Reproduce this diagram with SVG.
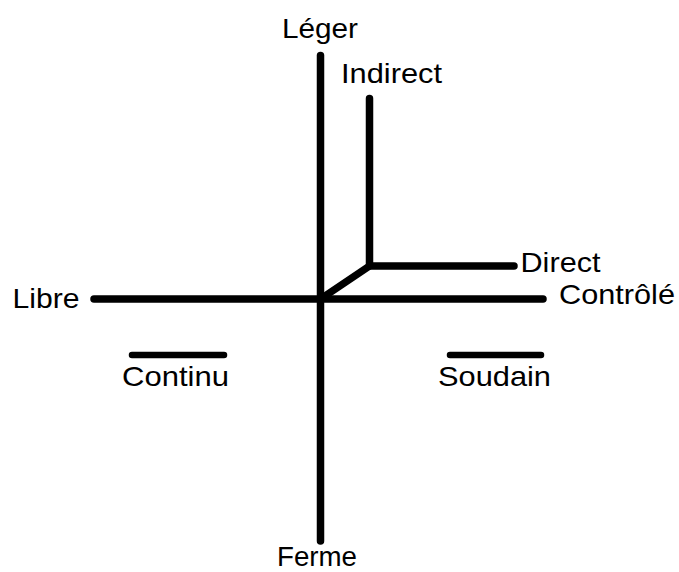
<svg xmlns="http://www.w3.org/2000/svg" width="679" height="572" viewBox="0 0 679 572">
<style>
.ln{stroke:#000;stroke-width:7.5;stroke-linecap:round;stroke-linejoin:round;fill:none}
.bar{stroke:#000;stroke-width:6.5;stroke-linecap:round;fill:none}
text{font-family:"Liberation Sans",Arial,Helvetica,sans-serif;font-size:28px;fill:#000}
</style>
<rect width="679" height="572" fill="#fff"/>
<g id="connectors">
<path class="ln" d="M320.5,55.5 V541"/>
<path class="ln" d="M94,299 H543"/>
<path class="ln" d="M369.5,98.5 V266 H514"/>
<path class="ln" d="M322,298 L369.5,266"/>
<path class="bar" d="M132,355 H224"/>
<path class="bar" d="M450,355 H541"/>
</g>
<g id="leger"><text x="282" y="37.5" textLength="76" lengthAdjust="spacingAndGlyphs">Léger</text></g>
<g id="indirect"><text x="341" y="82.5" textLength="101" lengthAdjust="spacingAndGlyphs">Indirect</text></g>
<g id="direct"><text x="520.5" y="272" textLength="80" lengthAdjust="spacingAndGlyphs">Direct</text></g>
<g id="controle"><text x="559" y="304" textLength="116" lengthAdjust="spacingAndGlyphs">Contrôlé</text></g>
<g id="libre"><text x="12.5" y="307.5" textLength="67" lengthAdjust="spacingAndGlyphs">Libre</text></g>
<g id="continu"><text x="122" y="386" textLength="107" lengthAdjust="spacingAndGlyphs">Continu</text></g>
<g id="soudain"><text x="438" y="386" textLength="113" lengthAdjust="spacingAndGlyphs">Soudain</text></g>
<g id="ferme"><text x="277" y="566" textLength="80" lengthAdjust="spacingAndGlyphs">Ferme</text></g>
</svg>
